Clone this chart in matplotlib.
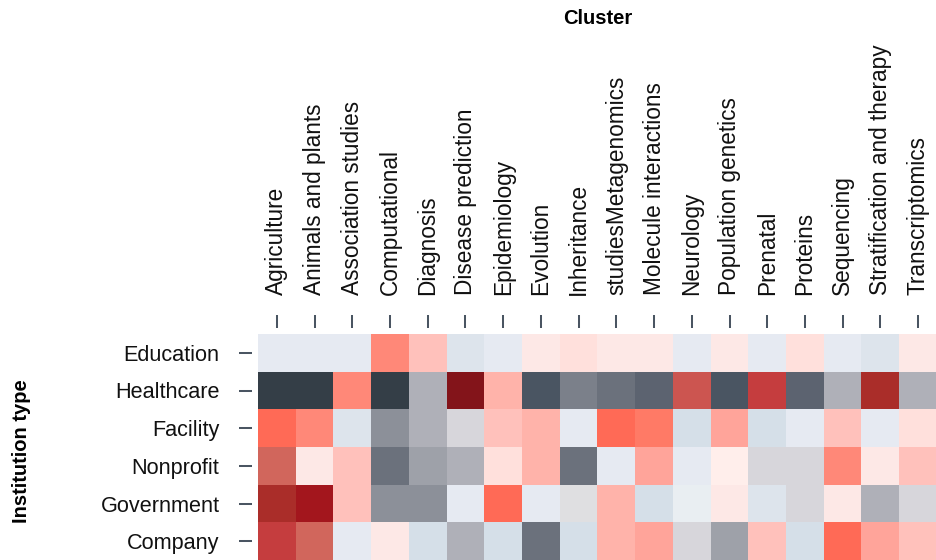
import matplotlib
matplotlib.use("Agg")
import matplotlib.pyplot as plt
import numpy as np
from matplotlib.colors import ListedColormap, BoundaryNorm

clusters = [
    "Agriculture", "Animals and plants", "Association studies", "Computational",
    "Diagnosis", "Disease prediction", "Epidemiology", "Evolution", "Inheritance",
    "studiesMetagenomics", "Molecule interactions", "Neurology",
    "Population genetics", "Prenatal", "Proteins", "Sequencing",
    "Stratification and therapy", "Transcriptomics",
]
institutions = ["Education", "Healthcare", "Facility", "Nonprofit", "Government", "Company"]

# ordinal level per cell (index into the colour scale below)
education  = [12, 12, 12, 20, 17, 11, 12, 15, 16, 15, 15, 12, 15, 12, 16, 12, 11, 15]
healthcare = [0, 0, 20, 0, 7, 28, 18, 1, 4, 3, 2, 24, 1, 25, 2, 7, 26, 7]
facility   = [22, 20, 11, 5, 7, 8, 17, 18, 12, 22, 21, 10, 19, 10, 12, 17, 12, 16]
nonprofit  = [23, 15, 17, 3, 6, 7, 16, 18, 3, 12, 19, 12, 14, 8, 8, 20, 15, 17]
government = [26, 27, 17, 5, 5, 12, 22, 12, 9, 18, 10, 13, 15, 11, 8, 15, 7, 8]
company    = [25, 23, 12, 15, 10, 7, 10, 3, 10, 18, 19, 8, 6, 17, 10, 22, 19, 17]

palette = [
    "#343e47", "#4a5562", "#5c6370", "#6b717c", "#7b808a", "#8c9099",
    "#9ea1a9", "#afb0b8", "#d7d6db", "#dfdfe1", "#d5dfe8", "#dde4ec",
    "#e6eaf2", "#e9eef2", "#ffeeeb", "#fde8e6", "#ffe0dc", "#ffc1bb",
    "#ffb3aa", "#ffa49a", "#ff8878", "#ff7a66", "#ff6a56", "#d1665c",
    "#cc5550", "#c53d3e", "#aa2d29", "#a3161d", "#83141a",
]

grid = np.array([education, healthcare, facility, nonprofit, government, company])
cmap = ListedColormap(palette)
norm = BoundaryNorm(np.arange(len(palette) + 1) - 0.5, cmap.N)

plt.rcParams["font.family"] = ["Liberation Sans", "DejaVu Sans"]

W, H = 937, 560
fig = plt.figure(figsize=(W / 100, H / 100), dpi=100)
ax = fig.add_axes([258 / W, 0, 1 - 258 / W, 226 / H])
ax.imshow(grid, cmap=cmap, norm=norm, aspect="auto", interpolation="nearest")

ax.xaxis.tick_top()
ax.set_xticks(range(len(clusters)))
ax.set_xticklabels(clusters)
ax.set_yticks(range(len(institutions)))
ax.set_yticklabels(institutions)

for s in ax.spines.values():
    s.set_visible(False)
# ticks sit a few pixels away from the cells
ax.spines["top"].set_position(("outward", 4.3))
ax.spines["left"].set_position(("outward", 4.3))
ax.tick_params(length=9.5, width=1.45, color="#4a5562", pad=14,
               labelcolor="#111111")
ax.tick_params(axis="x", labelrotation=90, labelsize=16.3)
ax.tick_params(axis="y", labelsize=15.6)

fig.text(597.5 / W, 1 - 19 / H, "Cluster", ha="center", va="center",
         fontsize=14.5, fontweight="bold")
fig.text(22 / W, 1 - 451 / H, "Institution type", ha="center", va="center",
         rotation=90, fontsize=14.5, fontweight="bold")

fig.savefig("out.png", dpi=100)
